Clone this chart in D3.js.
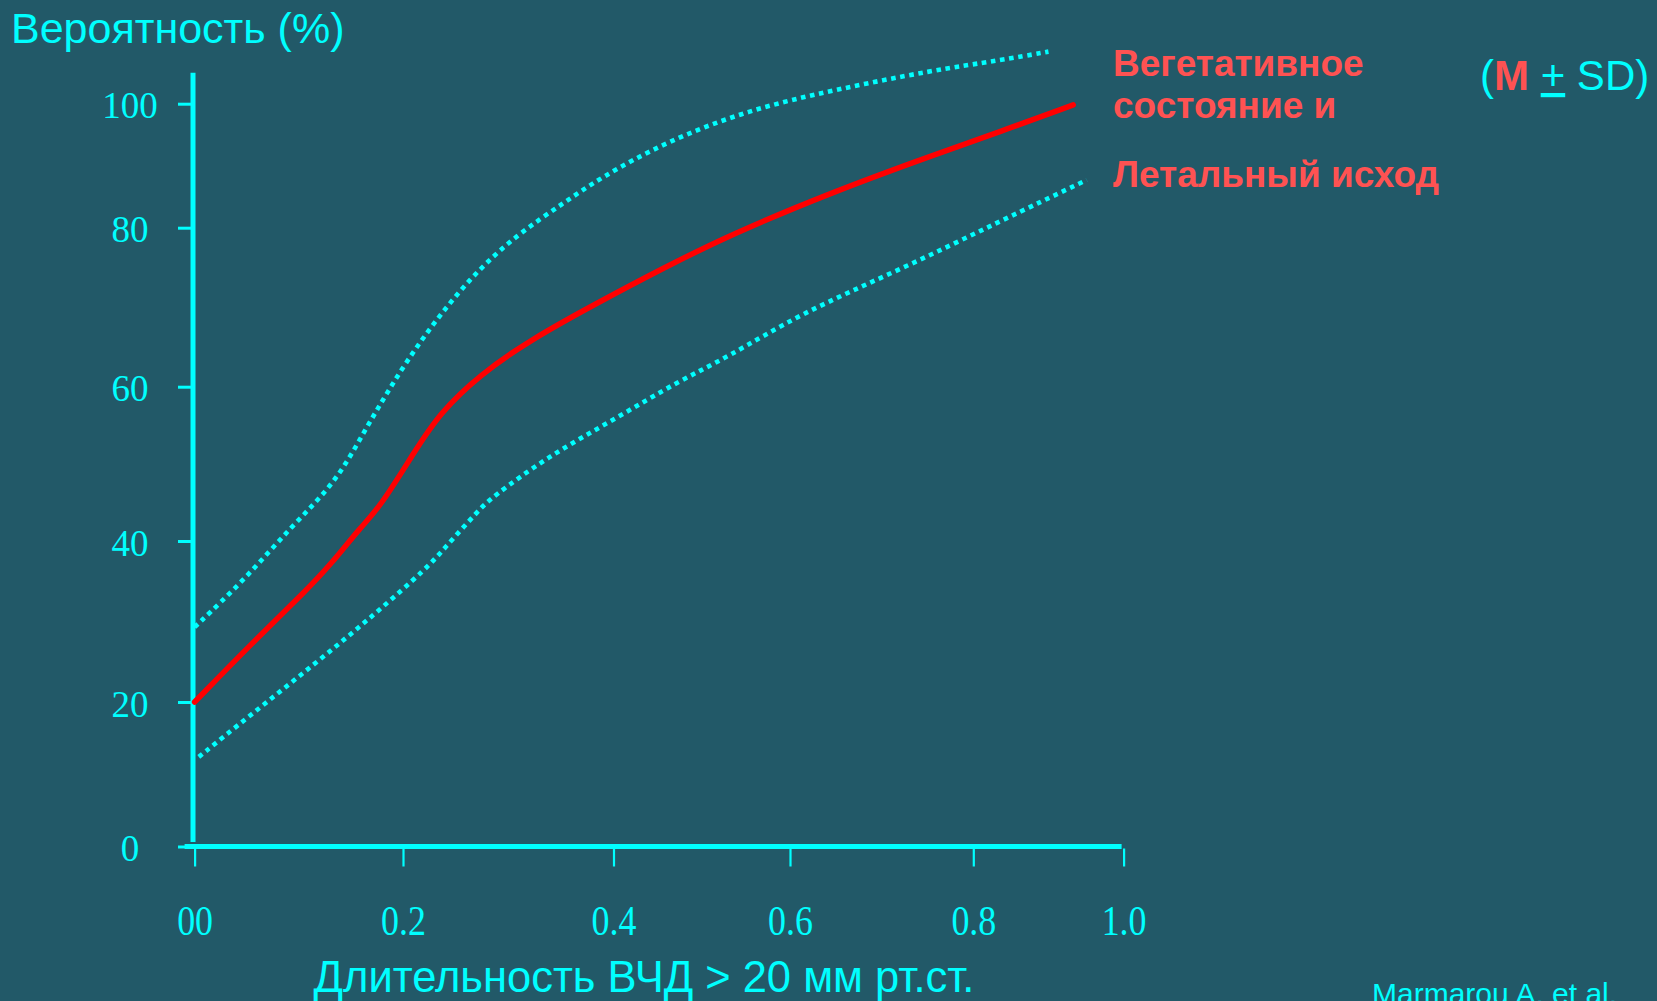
<!DOCTYPE html>
<html lang="ru">
<head>
<meta charset="utf-8">
<script src="https://cdn.jsdelivr.net/npm/d3@7"></script>
<style>
  html, body { margin: 0; padding: 0; background: #225968; overflow: hidden; }
  svg { display: block; }
</style>
</head>
<body>
<svg id="chart" width="1657" height="1001"></svg>
<script>
// Axis ticks and labels
const xTicks = [0, 0.2, 0.4, 0.6, 0.8, 1.0];
const xTickLabels = ["00", "0.2", "0.4", "0.6", "0.8", "1.0"];
const yTicks = [0, 20, 40, 60, 80, 100];

// Probability curve (mean) and ±SD band edges: [duration share, probability %]
const meanCurve = [
  [0.000, 20.0], [0.055, 27.3], [0.109, 34.1], [0.130, 37.0], [0.160, 41.9],
  [0.178, 44.4], [0.211, 51.6], [0.235, 56.6], [0.273, 61.5], [0.321, 65.9],
  [0.384, 70.5], [0.456, 74.9], [0.532, 79.1], [0.647, 85.8], [0.756, 91.7],
  [0.836, 95.5], [0.933, 99.8]
];
const upperSD = [
  [0.000, 29.3], [0.048, 35.2], [0.093, 41.9], [0.135, 47.5], [0.162, 54.0],
  [0.188, 60.0], [0.219, 66.3], [0.264, 73.8], [0.308, 79.1], [0.352, 83.9],
  [0.387, 88.0], [0.460, 93.9], [0.553, 99.0], [0.647, 102.2], [0.756, 105.4],
  [0.836, 107.0], [0.900, 108.4]
];
const lowerSD = [
  [0.004, 12.4], [0.052, 18.0], [0.116, 24.8], [0.172, 30.8], [0.224, 36.8],
  [0.238, 38.9], [0.272, 44.0], [0.283, 45.5], [0.337, 50.9], [0.400, 55.7],
  [0.475, 60.8], [0.528, 63.6], [0.611, 69.2], [0.720, 74.7], [0.835, 81.0],
  [0.951, 87.7]
];

// Text
const yTitle = "Вероятность (%)";
const xTitle = "Длительность ВЧД > 20 мм рт.ст.";
const legendLines = ["Вегетативное", "состояние и", "Летальный исход"];
const citation = "Marmarou A.  et al.";

const CYAN = "#00ffff";
const RED = "#ff0000";
const LABEL_RED = "#ff5252";

const svg = d3.select("#chart");
svg.append("rect").attr("width", 1657).attr("height", 1001).attr("fill", "#225968");

// Hand-drawn axes: tick spacing is uneven, so both scales are piecewise linear
const x = d3.scaleLinear().domain(xTicks).range([194.6, 403, 613.5, 790, 973.3, 1123.6]);
const y = d3.scaleLinear().domain(yTicks).range([846.5, 702, 541, 386.7, 227.7, 103.7]);

// Y axis
const yAxis = svg.append("g").attr("transform", `translate(${x(0) - 1.6},0)`)
  .call(d3.axisLeft(y).tickValues(yTicks).tickSize(15).tickSizeOuter(0).tickFormat(d3.format("d")));
yAxis.select(".domain").remove();
yAxis.selectAll(".tick line").attr("stroke", CYAN).attr("stroke-width", 3);
yAxis.selectAll(".tick text")
  .attr("fill", CYAN)
  .attr("x", -63)
  .attr("dy", "0.38em")
  .attr("text-anchor", "middle")
  .style("font-family", "'Liberation Serif', 'Times New Roman', serif")
  .style("font-size", "37px");
yAxis.append("line")
  .attr("x1", 0).attr("x2", 0)
  .attr("y1", y(0) - 4.5).attr("y2", y(105))
  .attr("stroke", CYAN).attr("stroke-width", 5);

// X axis
const xAxis = svg.append("g").attr("transform", `translate(0,${y(0) + 2})`)
  .call(d3.axisBottom(x).tickValues(xTicks).tickSize(18).tickSizeOuter(0)
    .tickFormat((d, i) => xTickLabels[i]));
xAxis.select(".domain").remove();
xAxis.selectAll(".tick line").attr("stroke", CYAN).attr("stroke-width", 2.2);
xAxis.selectAll(".tick text")
  .attr("fill", CYAN)
  .attr("y", 0)
  .attr("dy", 0)
  .attr("transform", "translate(0,86) scale(0.97,1.12)")
  .style("font-family", "'Liberation Serif', 'Times New Roman', serif")
  .style("font-size", "37px");
svg.append("line")
  .attr("x1", x(0) - 10).attr("x2", x(1) - 2)
  .attr("y1", y(0)).attr("y2", y(0))
  .attr("stroke", CYAN).attr("stroke-width", 5);

// Curves
const line = d3.line()
  .x(d => x(d[0]))
  .y(d => y(d[1]))
  .curve(d3.curveBasis);

svg.append("path").datum(upperSD)
  .attr("d", line).attr("fill", "none")
  .attr("stroke", CYAN).attr("stroke-width", 4.6)
  .attr("stroke-dasharray", "4.6 4.6");
svg.append("path").datum(lowerSD)
  .attr("d", line).attr("fill", "none")
  .attr("stroke", CYAN).attr("stroke-width", 4.6)
  .attr("stroke-dasharray", "4.6 4.6");
svg.append("path").datum(meanCurve)
  .attr("d", line).attr("fill", "none")
  .attr("stroke", RED).attr("stroke-width", 5.5)
  .attr("stroke-linecap", "round");

// Titles
svg.append("text")
  .attr("x", 11).attr("y", 43)
  .attr("fill", CYAN)
  .style("font-family", "'Liberation Sans', Arial, sans-serif")
  .style("font-size", "43px")
  .text(yTitle);

svg.append("text")
  .attr("x", 644).attr("y", 992)
  .attr("text-anchor", "middle")
  .attr("fill", CYAN)
  .style("font-family", "'Liberation Sans', Arial, sans-serif")
  .style("font-size", "43.5px")
  .text(xTitle);

// Series label
const legendY = [76, 118, 187];
legendLines.forEach((t, i) => {
  svg.append("text")
    .attr("x", 1113).attr("y", legendY[i])
    .attr("fill", LABEL_RED)
    .style("font-family", "'Liberation Sans', Arial, sans-serif")
    .style("font-weight", "bold")
    .style("font-size", "37px")
    .text(t);
});

// (M ± SD) note
const note = svg.append("text")
  .attr("x", 1480).attr("y", 90)
  .attr("fill", CYAN)
  .style("font-family", "'Liberation Sans', Arial, sans-serif")
  .style("font-size", "42px");
note.append("tspan").text("(");
note.append("tspan").attr("fill", LABEL_RED).style("font-weight", "bold").text("М");
note.append("tspan").text(" ");
note.append("tspan").style("text-decoration", "underline").text("+");
note.append("tspan").text(" SD)");

// Citation
svg.append("text")
  .attr("x", 1372).attr("y", 1004)
  .attr("fill", CYAN)
  .style("font-family", "'Liberation Sans', Arial, sans-serif")
  .style("font-size", "30px")
  .text(citation);
</script>
</body>
</html>
